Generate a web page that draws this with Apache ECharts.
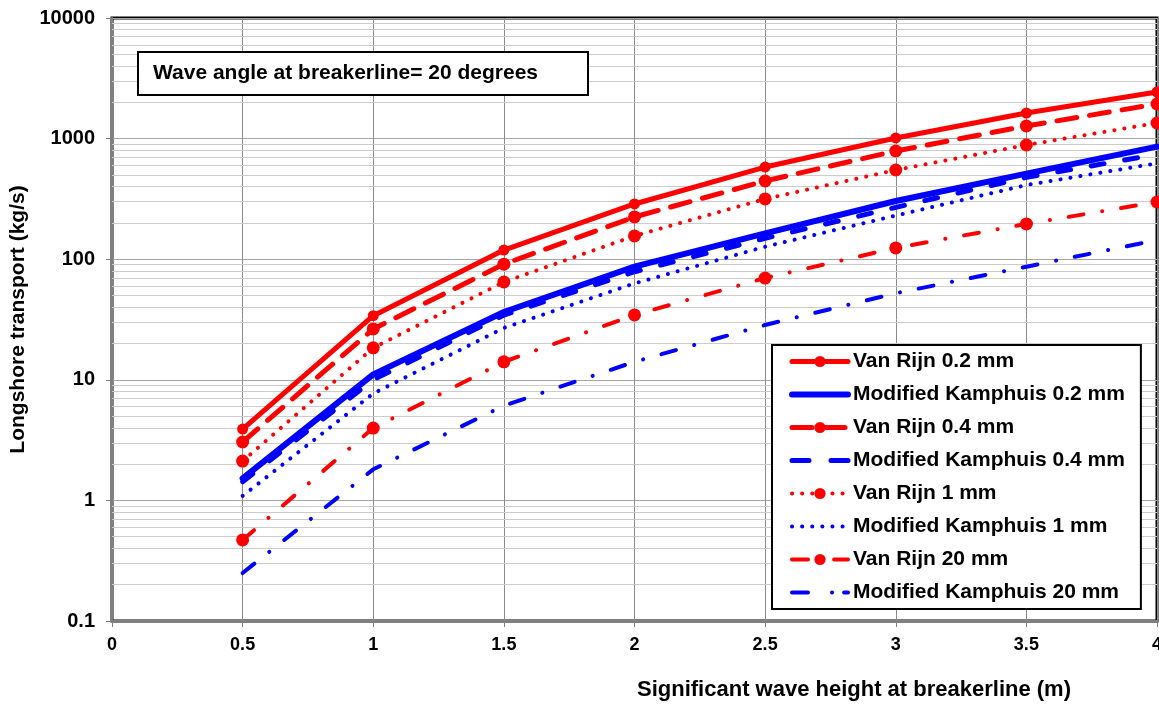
<!DOCTYPE html>
<html>
<head>
<meta charset="utf-8">
<script src="https://cdn.jsdelivr.net/npm/echarts@6/dist/echarts.min.js"></script>
<style>
  html, body { margin: 0; padding: 0; background: #fff; }
  #chart { width: 1159px; height: 704px; }
</style>
</head>
<body>
<div id="chart"></div>
<script>
var waveHeight = [0.5, 1, 1.5, 2, 2.5, 3, 3.5, 4];

var vanRijn02 = [3.9, 34, 119, 287, 581, 1012, 1630, 2435];
var kamphuis02 = [1.52, 11.1, 36.5, 86.7, 164, 304, 512, 857];
var vanRijn04 = [3.05, 26.4, 91, 224, 445, 789, 1272, 1936];
var kamphuis04 = [1.43, 10.0, 34.4, 78.7, 149, 269, 477, 741];
var vanRijn1 = [2.12, 18.4, 64.7, 156, 316, 549, 885, 1347];
var kamphuis1 = [1.09, 7.7, 26.9, 63, 127, 230, 412, 624];
var vanRijn20 = [0.47, 3.98, 14.1, 34.5, 69.8, 124, 196, 298];
var kamphuis20 = [0.25, 1.81, 6.1, 14.1, 28.5, 52.2, 86.7, 144];

var seriesNames = [
    'Van Rijn 0.2 mm', 'Modified Kamphuis 0.2 mm',
    'Van Rijn 0.4 mm', 'Modified Kamphuis 0.4 mm',
    'Van Rijn 1 mm', 'Modified Kamphuis 1 mm',
    'Van Rijn 20 mm', 'Modified Kamphuis 20 mm'
];

// minor log gridlines (2..9 in every decade)
var decades = [0.1, 1, 10, 100, 1000];
var minorGrid = [];
decades.forEach(function (d) {
    for (var k = 2; k <= 9; k++) minorGrid.push(+(d * k).toPrecision(3));
});

var RED = '#ff0000';
var BLUE = '#0000ff';
var FONT = 'Liberation Sans, Arial, sans-serif';

// line looks, shared by series and legend icons
var styles = [
    { color: RED, width: 5, type: 'solid', size: 11 },
    { color: BLUE, width: 6, type: 'solid' },
    { color: RED, width: 5, type: [20, 13], size: 13 },
    { color: BLUE, width: 5, type: [13, 21] },
    { color: RED, width: 4, type: [0.1, 10], size: 13 },
    { color: BLUE, width: 4, type: [0.1, 10] },
    { color: RED, width: 4, type: [15, 19, 0.1, 19], size: 13 },
    { color: BLUE, width: 4, type: [15, 19, 0.1, 19] }
];
var seriesValues = [vanRijn02, kamphuis02, vanRijn04, kamphuis04, vanRijn1, kamphuis1, vanRijn20, kamphuis20];

function pairs(ys) {
    return ys.map(function (y, i) { return [waveHeight[i], y]; });
}

var dataSeries = seriesNames.map(function (name, i) {
    var s = styles[i];
    return {
        name: name,
        type: 'line',
        data: pairs(seriesValues[i]),
        symbol: s.size ? 'circle' : 'none',
        symbolSize: s.size || 0,
        itemStyle: { color: s.color },
        lineStyle: { color: s.color, width: s.width, type: s.type, cap: 'round' },
        z: 3
    };
});

var legendData = seriesNames.map(function (name, i) {
    var s = styles[i];
    var legendType = s.type;
    if (i === 3) legendType = [17, 22];
    if (i === 6) legendType = [16, 14, 0.1, 12];
    if (i === 7) legendType = [16, 24, 0.1, 12];
    return {
        name: name,
        itemStyle: s.size ? { color: s.color } : { opacity: 0 },
        lineStyle: { width: s.width, type: legendType, cap: 'round', color: s.color }
    };
});

var myChart = echarts.init(document.getElementById('chart'));

var option = {
    animation: false,
    backgroundColor: '#fff',
    title: {
        text: 'Wave angle at breakerline= 20 degrees',
        left: 138,
        top: 52,
        padding: [11, 50, 11, 15],
        borderColor: '#000',
        borderWidth: 2,
        backgroundColor: '#fff',
        textStyle: { fontFamily: FONT, fontWeight: 'bold', fontSize: 21, color: '#000' }
    },
    grid: {
        left: 112,
        right: 2,
        top: 18,
        bottom: 83,
        outerBoundsMode: 'none',
        containLabel: false,
        show: true,
        borderColor: '#000',
        borderWidth: 3
    },
    legend: {
        data: legendData,
        orient: 'vertical',
        left: 772,
        top: 345,
        padding: [6, 16, 6, 17],
        itemWidth: 56,
        itemHeight: 14,
        itemGap: 12,
        backgroundColor: '#fff',
        borderColor: '#000',
        borderWidth: 2,
        z: 10,
        textStyle: { fontFamily: FONT, fontWeight: 'bold', fontSize: 21, color: '#000', lineHeight: 21 }
    },
    xAxis: {
        type: 'value',
        min: 0,
        max: 4,
        interval: 0.5,
        axisLine: { show: true, onZero: false, lineStyle: { color: '#808080', width: 2 } },
        axisTick: { show: true, length: 6, lineStyle: { color: '#808080' } },
        axisLabel: { margin: 15, fontFamily: FONT, fontWeight: 'bold', fontSize: 18, color: '#000' },
        splitLine: { show: true, lineStyle: { color: '#8a8a8a', width: 1 } }
    },
    yAxis: {
        type: 'log',
        logBase: 10,
        min: 0.1,
        max: 10000,
        name: 'Longshore transport (kg/s)',
        nameLocation: 'middle',
        nameGap: 80,
        nameTextStyle: { fontFamily: FONT, fontWeight: 'bold', fontSize: 21, color: '#000' },
        axisLine: { show: true, lineStyle: { color: '#808080', width: 2 } },
        axisTick: { show: true, length: 6, lineStyle: { color: '#808080' } },
        axisLabel: {
            margin: 17,
            fontFamily: FONT, fontWeight: 'bold', fontSize: 20, color: '#000',
            formatter: function (v) { return String(+v.toPrecision(3)); }
        },
        splitLine: { show: true, lineStyle: { color: '#a6a6a6', width: 1 } }
    },
    graphic: [{
        type: 'text',
        x: 854,
        y: 690,
        style: {
            text: 'Significant wave height at breakerline (m)',
            fill: '#000',
            font: 'bold 22px ' + FONT,
            textAlign: 'center',
            textVerticalAlign: 'middle'
        }
    }],
    series: [{
        name: 'minor grid',
        type: 'line',
        data: [],
        silent: true,
        z: 1,
        markLine: {
            z: 1,
            silent: true,
            symbol: 'none',
            animation: false,
            label: { show: false },
            lineStyle: { color: '#cccccc', width: 1, type: 'solid' },
            data: minorGrid.map(function (v) { return { yAxis: v }; })
        }
    }].concat(dataSeries)
};

myChart.setOption(option);
</script>
</body>
</html>
